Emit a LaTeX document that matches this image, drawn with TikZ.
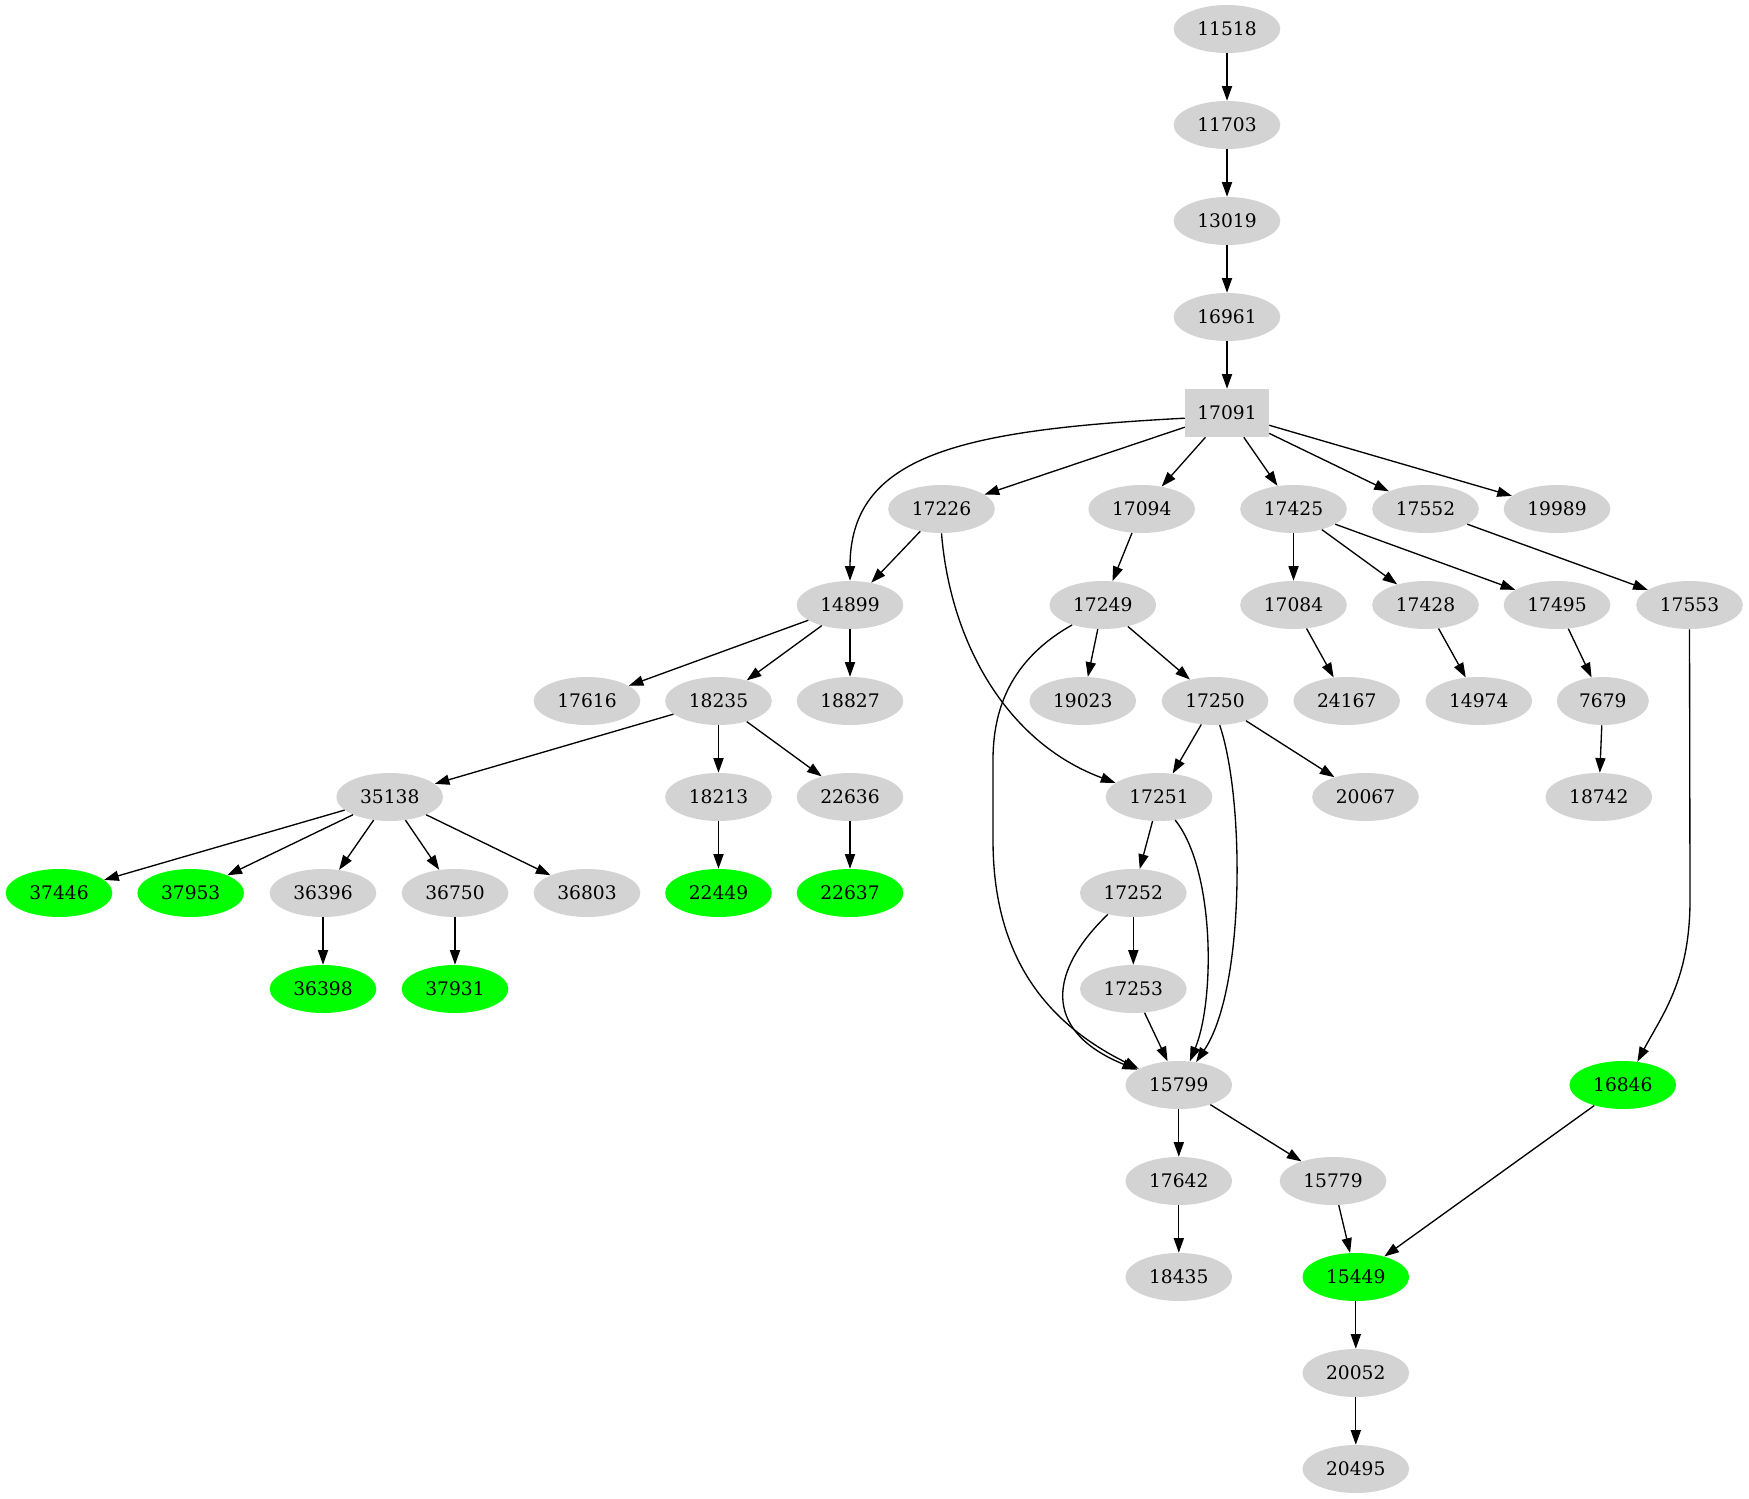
\documentclass[tikz,border=0pt]{standalone}
\usepackage{fontspec}
\setmainfont{DejaVu Serif}
\usetikzlibrary{shapes.geometric,arrows.meta}
\definecolor{lg}{HTML}{D3D3D3}
\definecolor{gr}{HTML}{00FF00}
\begin{document}
\begin{tikzpicture}[x=0.75pt,y=-0.75pt,
  gn/.style={ellipse,fill=lg,minimum width=80pt,minimum height=36pt,inner sep=0pt,font=\fontsize{14}{16}\selectfont},
  hn/.style={gn,fill=gr},
  bx/.style={rectangle,fill=lg,minimum width=63pt,minimum height=36pt,inner sep=0pt,font=\fontsize{14}{16}\selectfont},
  e/.style={-{Triangle[length=11pt,width=7.6pt]},line width=1pt}]
\useasboundingbox (0,0) rectangle (1749,1499);
% nodes
\node[gn] (n11518) at (1227,29) {11518};
\node[gn] (n11703) at (1227,125) {11703};
\node[gn] (n13019) at (1227,221) {13019};
\node[gn] (n16961) at (1227,317) {16961};
\node[bx] (n17091) at (1227,413) {17091};
\node[gn] (n17226) at (941.5,509) {17226};
\node[gn] (n17094) at (1141.7,509) {17094};
\node[gn] (n17425) at (1293.5,509) {17425};
\node[gn] (n17552) at (1425.5,509) {17552};
\node[gn] (n19989) at (1557,509) {19989};
\node[gn] (n14899) at (850,605) {14899};
\node[gn] (n17249) at (1102.8,605) {17249};
\node[gn] (n17084) at (1293.5,605) {17084};
\node[gn] (n17428) at (1425.5,605) {17428};
\node[gn] (n17495) at (1557,605) {17495};
\node[gn] (n17553) at (1689.5,605) {17553};
\node[gn] (n17616) at (587,701) {17616};
\node[gn] (n18235) at (718.5,701) {18235};
\node[gn] (n18827) at (850,701) {18827};
\node[gn] (n19023) at (1082.8,701) {19023};
\node[gn] (n17250) at (1215,701) {17250};
\node[gn] (n24167) at (1346.7,701) {24167};
\node[gn] (n14974) at (1478.8,701) {14974};
\node[gn,minimum width=69pt] (n7679) at (1602.8,701) {7679};
\node[gn] (n35138) at (389.7,797) {35138};
\node[gn] (n18213) at (718.5,797) {18213};
\node[gn] (n22636) at (850,797) {22636};
\node[gn] (n17251) at (1159,797) {17251};
\node[gn] (n20067) at (1365.5,797) {20067};
\node[gn] (n18742) at (1598.8,797) {18742};
\node[hn] (n37446) at (59,893) {37446};
\node[hn] (n37953) at (190.7,893) {37953};
\node[gn] (n36396) at (323,893) {36396};
\node[gn] (n36750) at (455,893) {36750};
\node[gn] (n36803) at (587,893) {36803};
\node[hn] (n22449) at (718.5,893) {22449};
\node[hn] (n22637) at (850,893) {22637};
\node[gn] (n17252) at (1133.3,893) {17252};
\node[hn] (n36398) at (323,989) {36398};
\node[hn] (n37931) at (455,989) {37931};
\node[gn] (n17253) at (1133.3,989) {17253};
\node[gn] (n15799) at (1178.8,1085) {15799};
\node[hn] (n16846) at (1622.8,1085) {16846};
\node[gn] (n17642) at (1178.8,1181) {17642};
\node[gn] (n15779) at (1333,1181) {15779};
\node[gn] (n18435) at (1178.8,1277) {18435};
\node[hn] (n15449) at (1355.8,1277) {15449};
\node[gn] (n20052) at (1355.8,1373) {20052};
\node[gn] (n20495) at (1355.8,1469) {20495};
% edges
\draw[e] (n11518) -- (n11703);
\draw[e] (n11703) -- (n13019);
\draw[e] (n13019) -- (n16961);
\draw[e] (n16961) -- (n17091);
\draw[e] (n17091.187) .. controls (960,430) and (850,455) .. (n14899.north);
\draw[e] (n17091) -- (n17226);
\draw[e] (n17091) -- (n17094);
\draw[e] (n17091) -- (n17425);
\draw[e] (n17091) -- (n17552);
\draw[e] (n17091) -- (n19989);
\draw[e] (n17226) -- (n14899);
\draw[e] (n17226.south) .. controls (950,640) and (1005,742) .. (n17251.162);
\draw[e] (n17094) -- (n17249);
\draw[e] (n17425) -- (n17084);
\draw[e] (n17425) -- (n17428);
\draw[e] (n17425) -- (n17495);
\draw[e] (n17552) -- (n17553);
\draw[e] (n14899) -- (n17616);
\draw[e] (n14899) -- (n18235);
\draw[e] (n14899) -- (n18827);
\draw[e] (n17249.213) .. controls (1010,660) and (993,710) .. (993,760) -- (993,840) .. controls (993,950) and (1040,1020) .. (n15799.158);
\draw[e] (n17249) -- (n19023);
\draw[e] (n17249) -- (n17250);
\draw[e] (n17084) -- (n24167);
\draw[e] (n17428) -- (n14974);
\draw[e] (n17495) -- (n7679);
\draw[e] (n17553.south) -- (1690,900) .. controls (1690,980) and (1662,1015) .. (n16846.58);
\draw[e] (n18235) -- (n35138);
\draw[e] (n18235) -- (n18213);
\draw[e] (n18235) -- (n22636);
\draw[e] (n17250) -- (n17251);
\draw[e] (n17250.281) .. controls (1245,800) and (1245,990) .. (n15799.53);
\draw[e] (n17250) -- (n20067);
\draw[e] (n7679) -- (n18742);
\draw[e] (n35138) -- (n37446);
\draw[e] (n35138) -- (n37953);
\draw[e] (n35138) -- (n36396);
\draw[e] (n35138) -- (n36750);
\draw[e] (n35138) -- (n36803);
\draw[e] (n18213) -- (n22449);
\draw[e] (n22636) -- (n22637);
\draw[e] (n17251) -- (n17252);
\draw[e] (n17251.305) .. controls (1215,870) and (1215,1000) .. (n15799.65);
\draw[e] (n17252) -- (n17253);
\draw[e] (n17252.220) .. controls (1050,970) and (1040,1030) .. (n15799.160);
\draw[e] (n36396) -- (n36398);
\draw[e] (n36750) -- (n37931);
\draw[e] (n17253) -- (n15799);
\draw[e] (n15799) -- (n17642);
\draw[e] (n15799) -- (n15779);
\draw[e] (n16846) -- (n15449);
\draw[e] (n17642) -- (n18435);
\draw[e] (n15779) -- (n15449);
\draw[e] (n15449) -- (n20052);
\draw[e] (n20052) -- (n20495);
\end{tikzpicture}
\end{document}
